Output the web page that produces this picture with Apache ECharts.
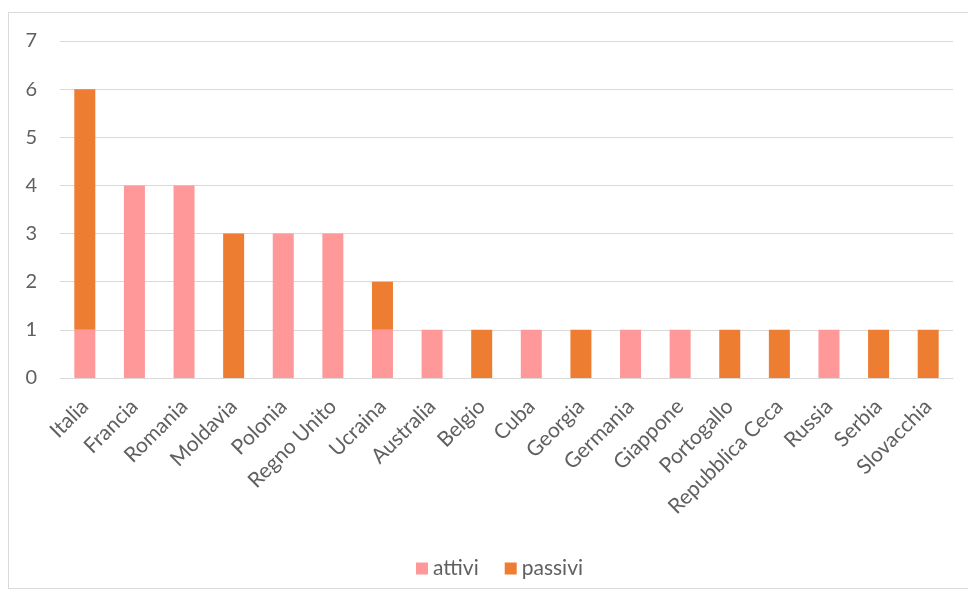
<!DOCTYPE html>
<html><head><meta charset="utf-8">
<script src="https://cdn.jsdelivr.net/npm/echarts@6/dist/echarts.min.js"></script>
<style>html,body{margin:0;padding:0;background:#fff}#c{width:968px;height:596px;position:relative}
#frame{position:absolute;left:8px;top:12px;width:970px;height:577px;border:1px solid #D9D9D9;box-sizing:border-box;pointer-events:none}</style>
</head><body><div id="c"></div><div id="frame"></div>
<script>
var categories = ["Italia","Francia","Romania","Moldavia","Polonia","Regno Unito","Ucraina","Australia","Belgio","Cuba","Georgia","Germania","Giappone","Portogallo","Repubblica Ceca","Russia","Serbia","Slovacchia"];
var attivi  = [1,4,4,0,3,3,1,1,0,1,0,1,1,0,0,1,0,0];
var passivi = [5,0,0,3,0,0,1,0,1,0,1,0,0,1,1,0,1,1];
var yTicks = [0,1,2,3,4,5,6,7];

var chart = echarts.init(document.getElementById('c'), null, {renderer:'canvas'});
var font = 'Lato, "Open Sans", sans-serif';
chart.setOption({
  animation:false,
  textStyle:{fontFamily:font},
  grid:{left:60,right:15,top:41,bottom:218},
  legend:{
    top:553,left:411,itemWidth:12,itemHeight:12,itemGap:26,icon:'rect',
    textStyle:{color:'#606060',fontSize:21,fontFamily:font},
    data:['attivi','passivi']
  },
  xAxis:{
    type:'category',data:categories,
    axisLine:{lineStyle:{color:'#D9D9D9',width:1}},
    axisTick:{show:false},
    axisLabel:{rotate:45,color:'#606060',fontSize:21,interval:0,margin:25,fontFamily:font}
  },
  yAxis:{
    type:'value',min:yTicks[0],max:yTicks[yTicks.length-1],interval:1,
    axisLine:{show:false},axisTick:{show:false},
    splitLine:{lineStyle:{color:'#D9D9D9',width:1}},
    axisLabel:{color:'#606060',fontSize:20,margin:23,fontFamily:font}
  },
  series:[
    {name:'attivi',type:'bar',stack:'s',data:attivi,barWidth:21,itemStyle:{color:'#FF9999'}},
    {name:'passivi',type:'bar',stack:'s',data:passivi,barWidth:21,itemStyle:{color:'#ED7D31'}}
  ]
});
</script></body></html>
